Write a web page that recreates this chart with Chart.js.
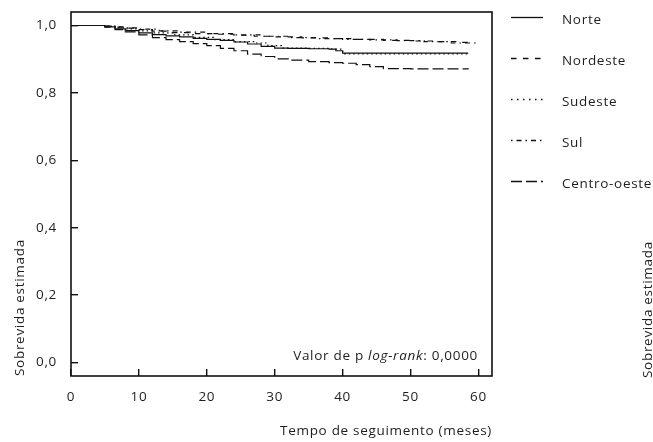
<!DOCTYPE html>
<html>
<head>
<meta charset="utf-8">
<script src="https://cdn.jsdelivr.net/npm/chart.js@4.4.1/dist/chart.umd.min.js"></script>
<style>
  html, body { margin: 0; padding: 0; background: #fff; }
</style>
</head>
<body>
<canvas id="chart" width="653" height="442"></canvas>
<script>
// tick labels
const xTicks = [0, 10, 20, 30, 40, 50, 60];
const yTicks = [0, 0.2, 0.4, 0.6, 0.8, 1.0];

// Kaplan-Meier curves (months, estimated survival)
const norteTempo = [0, 4, 5, 6.5, 8, 10, 12, 14, 16, 18, 20, 22, 24, 26, 28, 30, 32, 35, 38, 39, 40, 45, 58.5];
const norteSobrevida = [1, 1, 0.996, 0.99, 0.985, 0.978, 0.973, 0.969, 0.966, 0.962, 0.959, 0.956, 0.951, 0.945, 0.938, 0.933, 0.932, 0.931, 0.930, 0.925, 0.918, 0.918, 0.918];

const nordesteTempo = [0, 4, 5, 6.5, 8, 10, 12, 15, 18, 21, 24, 27, 30, 34, 38, 42, 46, 50, 54, 57, 59];
const nordesteSobrevida = [1, 1, 0.998, 0.995, 0.992, 0.988, 0.983, 0.979, 0.976, 0.974, 0.971, 0.968, 0.966, 0.963, 0.961, 0.959, 0.956, 0.954, 0.952, 0.950, 0.948];

const sudesteTempo = [0, 4, 5, 6.5, 8, 10, 12, 15, 18, 21, 24, 27, 29, 31, 35, 38, 40, 58.5];
const sudesteSobrevida = [1, 1, 0.997, 0.993, 0.990, 0.984, 0.978, 0.972, 0.965, 0.958, 0.952, 0.948, 0.940, 0.933, 0.932, 0.930, 0.916, 0.916];

const sulTempo = [0, 4, 5, 6.5, 8, 10, 13, 16, 20, 24, 28, 32, 36, 40, 44, 48, 52, 56, 59.5];
const sulSobrevida = [1, 1, 0.998, 0.996, 0.993, 0.989, 0.984, 0.980, 0.976, 0.972, 0.968, 0.964, 0.961, 0.959, 0.957, 0.955, 0.952, 0.948, 0.944];

const centroTempo = [0, 4, 5, 6.5, 8, 10, 12, 14, 16, 18, 20, 22, 24, 26, 28, 30, 32, 35, 38, 40, 42, 44, 46, 50, 58.5];
const centroSobrevida = [1, 1, 0.995, 0.988, 0.981, 0.972, 0.964, 0.958, 0.952, 0.946, 0.940, 0.932, 0.925, 0.915, 0.908, 0.901, 0.897, 0.893, 0.890, 0.888, 0.884, 0.878, 0.872, 0.871, 0.870];

const fonte = '"Open Sans", Lato, sans-serif';
const tamFonte = 13.5;
const corTexto = '#1e1e1e';

function pontos(tempo, sobrevida) {
  return tempo.map((t, i) => ({ x: t, y: sobrevida[i] }));
}

function serie(label, tempo, sobrevida, dash) {
  return {
    label: label,
    data: pontos(tempo, sobrevida),
    borderColor: '#111',
    borderWidth: 1.2,
    borderDash: dash,
    pointRadius: 0,
    stepped: true,
    fill: false
  };
}

// border box, p-value note, side legend, right-hand title
const extras = {
  id: 'extras',
  beforeDraw(chart) {
    // the original typeface runs wider than Open Sans
    chart.ctx.letterSpacing = '0.7px';
  },
  afterDatasetsDraw(chart) {
    const { ctx, chartArea: a } = chart;
    ctx.save();
    ctx.strokeStyle = '#111';
    ctx.lineWidth = 1.6;
    ctx.setLineDash([]);
    ctx.strokeRect(a.left, a.top, a.right - a.left, a.bottom - a.top);

    // p-value
    ctx.fillStyle = corTexto;
    ctx.textBaseline = 'alphabetic';
    const yTxt = a.bottom - 16;
    let x = a.right - 14;
    const partes = [
      [': 0,0000', 'normal'],
      ['log-rank', 'italic'],
      ['Valor de p ', 'normal']
    ];
    ctx.textAlign = 'right';
    partes.forEach(([txt, st]) => {
      ctx.font = st + ' ' + tamFonte + 'px ' + fonte;
      ctx.fillText(txt, x, yTxt);
      x -= ctx.measureText(txt).width;
    });

    // legend
    ctx.font = tamFonte + 'px ' + fonte;
    ctx.textAlign = 'left';
    ctx.textBaseline = 'middle';
    chart.data.datasets.forEach((ds, i) => {
      const y = 17.5 + i * 41;
      ctx.beginPath();
      ctx.setLineDash(ds.legendDash || ds.borderDash || []);
      ctx.lineWidth = 1.3;
      ctx.moveTo(a.right + 19, y);
      ctx.lineTo(a.right + 51, y);
      ctx.stroke();
      ctx.setLineDash([]);
      ctx.fillText(ds.label, a.right + 70, y + 3);
    });

    // right-hand axis title
    ctx.translate(648, a.bottom + 2);
    ctx.rotate(-Math.PI / 2);
    ctx.textAlign = 'left';
    ctx.fillText('Sobrevida estimada', 0, 0);
    ctx.restore();
  }
};

function desenhar() {
  const datasets = [
    serie('Norte', norteTempo, norteSobrevida, []),
    serie('Nordeste', nordesteTempo, nordesteSobrevida, [5.5, 6.5]),
    serie('Sudeste', sudesteTempo, sudesteSobrevida, [1.5, 3]),
    serie('Sul', sulTempo, sulSobrevida, [1.5, 4, 5, 4]),
    serie('Centro-oeste', centroTempo, centroSobrevida, [11, 4])
  ];
  datasets[2].legendDash = [1.5, 4.5];

  new Chart(document.getElementById('chart'), {
    type: 'line',
    data: { datasets: datasets },
    plugins: [extras],
    options: {
      responsive: false,
      animation: false,
      devicePixelRatio: 1,
      layout: { padding: { top: 12, right: 161, left: 0, bottom: 0 } },
      plugins: {
        legend: { display: false },
        tooltip: { enabled: false }
      },
      scales: {
        x: {
          type: 'linear',
          min: 0,
          max: 62,
          afterBuildTicks: (s) => { s.ticks = xTicks.map(v => ({ value: v })); },
          afterFit: (s) => { s.height = 66; s.paddingLeft = 0; s.paddingRight = 0; },
          border: { display: false },
          grid: { display: true, drawOnChartArea: false, drawTicks: true, tickLength: -7, color: '#111', lineWidth: 1.4 },
          ticks: {
            padding: 20, color: corTexto, font: { family: fonte, size: tamFonte },
            maxRotation: 0, autoSkip: false,
            callback: (v) => String(v)
          },
          title: {
            display: true, text: 'Tempo de seguimento (meses)', align: 'end',
            color: corTexto, font: { family: fonte, size: tamFonte },
            padding: { top: 0, bottom: 3 }
          }
        },
        y: {
          type: 'linear',
          min: -0.04,
          max: 1.04,
          afterBuildTicks: (s) => { s.ticks = yTicks.map(v => ({ value: v })); },
          afterFit: (s) => { s.width = 71; s.paddingTop = 0; s.paddingBottom = 0; },
          border: { display: false },
          grid: { display: true, drawOnChartArea: false, drawTicks: true, tickLength: -7, color: '#111', lineWidth: 1.4 },
          ticks: {
            padding: 21, color: corTexto, font: { family: fonte, size: tamFonte },
            callback: (v) => v.toFixed(1).replace('.', ',')
          },
          title: {
            display: true, text: 'Sobrevida estimada', align: 'start',
            color: corTexto, font: { family: fonte, size: tamFonte },
            padding: { top: 12, bottom: 0 }
          }
        }
      }
    }
  });
}

Promise.all([
  document.fonts.load('13px "Open Sans"'),
  document.fonts.load('italic 13px "Open Sans"')
]).then(desenhar, desenhar);
</script>
</body>
</html>
